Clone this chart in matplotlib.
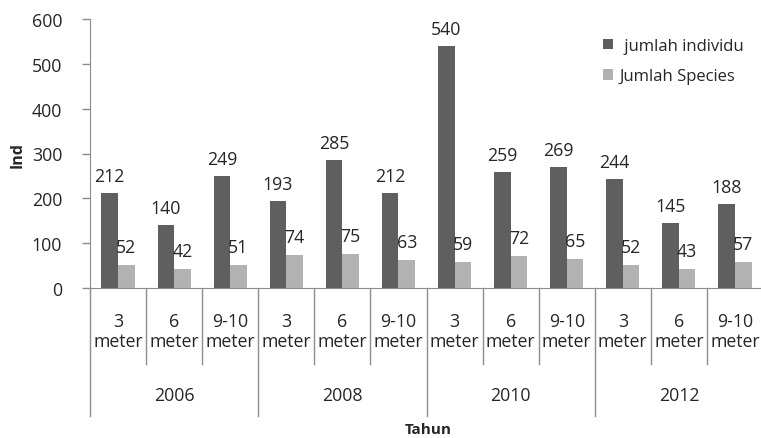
import numpy as np
import matplotlib
matplotlib.use("Agg")
import matplotlib.pyplot as plt
from matplotlib.transforms import blended_transform_factory

years = ["2006", "2008", "2010", "2012"]
depths = ["3", "6", "9-10"]
individu = [212, 140, 249, 193, 285, 212, 540, 259, 269, 244, 145, 188]
species = [52, 42, 51, 74, 75, 63, 59, 72, 65, 52, 43, 57]

dark = "#5f5f5f"
light = "#b2b2b2"
grey = "#8c8c8c"
txt = "#262626"

plt.rcParams['font.family'] = ['Open Sans', 'DejaVu Sans']

W, H = 761, 439
fig = plt.figure(figsize=(W / 100, H / 100), dpi=100)
ax = fig.add_axes([90 / W, 1 - 289 / H, 673 / W, 269 / H])

x = np.arange(len(individu))
bw = 0.295
ax.bar(x - bw / 2, individu, bw, color=dark, label=" jumlah individu")
ax.bar(x + bw / 2, species, bw, color=light, label="Jumlah Species")

fs = 12.8
for xi, v in zip(x, individu):
    ax.text(xi - bw / 2, v + 17 / 0.448, str(v), ha="center", va="center",
            fontsize=fs, color=txt)
for xi, v in zip(x, species):
    ax.text(xi + bw / 2, v + 18 / 0.448, str(v), ha="center", va="center",
            fontsize=fs, color=txt)

ax.set_xlim(-0.5, 11.5)
ax.set_ylim(0, 600)
ax.set_yticks(range(0, 601, 100))
ax.tick_params(axis="y", length=6, width=1, color=grey, pad=14, labelsize=fs,
               labelcolor=txt)
ax.set_xticks([])
for s in ["top", "right"]:
    ax.spines[s].set_visible(False)
ax.spines["left"].set_color(grey)
ax.spines["bottom"].set_color(grey)

tr = blended_transform_factory(ax.transData, ax.transAxes)
ah = 269.0
for i in range(len(individu) + 1):
    b = i - 0.5
    low = -128 / ah if i % 3 == 0 else -76 / ah
    ax.plot([b, b], [0, low], transform=tr, color=grey, lw=1, clip_on=False)

for i in range(len(individu)):
    ax.text(i, -33 / ah, depths[i % 3], transform=tr, ha="center", va="center",
            fontsize=fs, color=txt)
    ax.text(i, -53 / ah, "meter", transform=tr, ha="center", va="center",
            fontsize=fs, color=txt)
for j, yr in enumerate(years):
    ax.text(3 * j + 1, -107 / ah, yr, transform=tr, ha="center", va="center",
            fontsize=fs, color=txt)

fig.text(428 / W, 1 - 430 / H, "Tahun", ha="center", va="center",
         fontsize=11, fontweight="bold", color=txt)
fig.text(18 / W, 1 - 155 / H, "Ind", ha="center", va="center", rotation=90,
         fontsize=11.5, fontweight="bold", color=txt)

ax.legend(loc="upper left", bbox_to_anchor=(588 / W, 1 - 24 / H),
          bbox_transform=fig.transFigure, frameon=False, fontsize=12,
          handlelength=0.6, handleheight=0.6, handletextpad=0.4,
          labelspacing=0.85, labelcolor=txt)

fig.savefig("out.png", dpi=100)
